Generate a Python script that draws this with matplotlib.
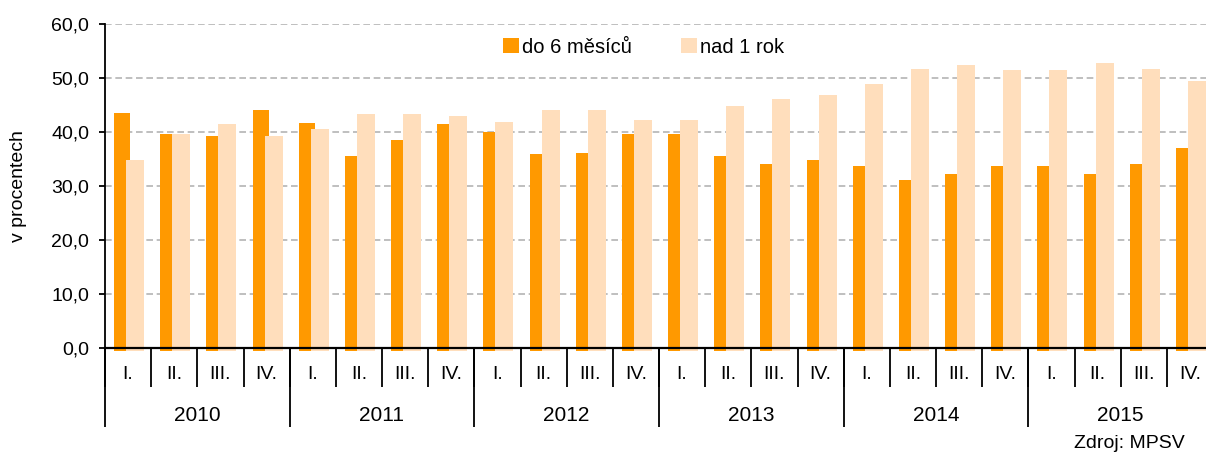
# quarterly share of job seekers by duration, 2010-2015
import matplotlib
matplotlib.use("Agg")
import matplotlib.pyplot as plt
import numpy as np

plt.rcParams.update({"font.family": ["Liberation Sans", "DejaVu Sans"], "font.size": 14})

years = ["2010", "2011", "2012", "2013", "2014", "2015"]
quarters = ["I.", "II.", "III.", "IV."]
do_6_mesicu = [43.6, 39.6, 39.2, 44.0,
               41.7, 35.5, 38.5, 41.4,
               40.0, 35.9, 36.2, 39.6,
               39.6, 35.5, 34.0, 34.8,
               33.7, 31.1, 32.2, 33.7,
               33.7, 32.2, 34.1, 37.0]
nad_1_rok = [34.8, 39.6, 41.4, 39.2,
             40.6, 43.3, 43.3, 42.9,
             41.8, 44.0, 44.0, 42.2,
             42.2, 44.8, 46.2, 46.9,
             48.8, 51.7, 52.5, 51.4,
             51.4, 52.8, 51.7, 49.5]

c_short = "#FF9900"
c_long = "#FFDEBC"

n = len(do_6_mesicu)
x = np.arange(n)
below = 0.55  # bars poke slightly below the axis line

fig = plt.figure(figsize=(12.06, 4.53), dpi=100)
ax = fig.add_axes([105 / 1206, 105 / 453, 1108 / 1206, 324 / 453])

ax.bar(x + 0.37, np.array(do_6_mesicu) + below, bottom=-below, width=0.35,
       color=c_short, label="do 6 měsíců", clip_on=False, zorder=2)
ax.bar(x + 0.65, np.array(nad_1_rok) + below, bottom=-below, width=0.39,
       color=c_long, label="nad 1 rok", clip_on=False, zorder=2)

ax.set_xlim(0, n)
ax.set_ylim(0, 60)
ax.set_yticks(np.arange(0, 61, 10))
ax.set_yticklabels([f"{v:.1f}".replace(".", ",") for v in np.arange(0, 61, 10)])
ax.yaxis.grid(True, color="#B4B4B4", linestyle=(0, (4, 2.2)), linewidth=1.2)
ax.set_axisbelow(True)
for s in ["top", "right"]:
    ax.spines[s].set_visible(False)
ax.spines["left"].set_linewidth(1.3)
ax.spines["bottom"].set_linewidth(1.6)
ax.spines["bottom"].set_zorder(3)
ax.tick_params(axis="y", length=4.5, width=1.3, pad=7)

# quarter labels and quarter separators
ax.set_xticks(x + 0.5)
ax.set_xticklabels(quarters * len(years))
ax.set_xticks(np.arange(0, n + 1), minor=True)
ax.tick_params(axis="x", which="major", length=0, pad=13)
ax.tick_params(axis="x", which="minor", length=28, width=1.3, direction="out")

# year separators and year labels
sec = ax.secondary_xaxis("bottom")
sec.spines["bottom"].set_visible(False)
sec.set_xticks(np.arange(0, n + 1, 4))
sec.set_xticklabels([""] * (len(years) + 1))
sec.set_xticks(np.arange(2, n, 4), minor=True)
sec.set_xticklabels(years, minor=True, fontsize=15)
sec.tick_params(axis="x", which="major", length=57, width=1.3)
sec.tick_params(axis="x", which="minor", length=0, pad=42)

ax.set_ylabel("v procentech")
ax.yaxis.set_label_coords(-0.0705, 0.5)

ax.legend(loc="center", bbox_to_anchor=(0.486, 0.929), ncol=2, frameon=False,
          fontsize=14.5, handlelength=0.8, handleheight=0.8, handletextpad=0.15,
          columnspacing=2.4, borderaxespad=0)

fig.text(1185 / 1206, 1 - 443 / 453, "Zdroj: MPSV", ha="right", va="center")

fig.savefig("out.png", dpi=100)
